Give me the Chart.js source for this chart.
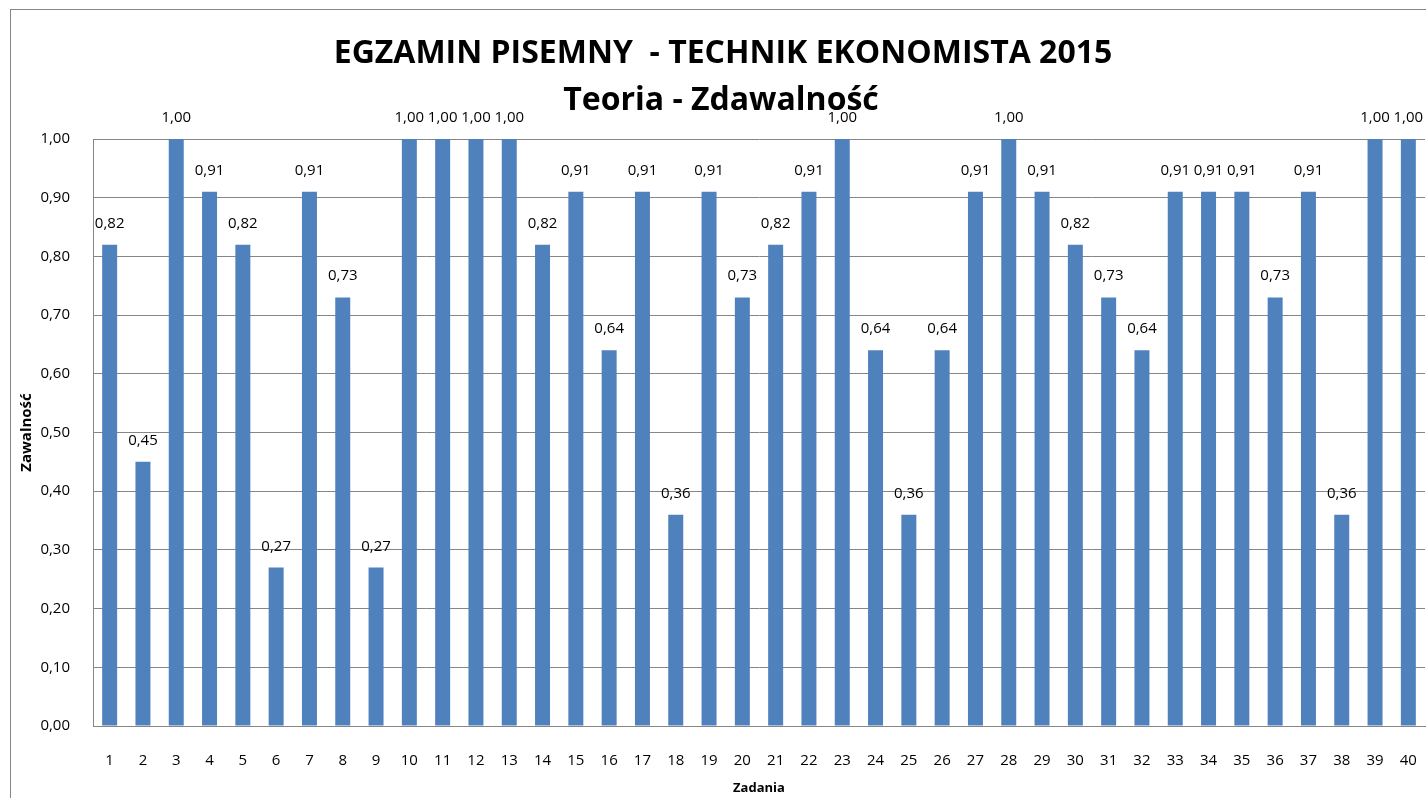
<!DOCTYPE html>
<html>
<head>
<meta charset="utf-8">
<script src="https://cdn.jsdelivr.net/npm/chart.js@4.4.1/dist/chart.umd.min.js"></script>
<style>
  body { margin: 0; background: #fff; overflow: hidden; }
  canvas { display: block; }
</style>
</head>
<body>
<canvas id="myChart" width="1426" height="798"></canvas>
<script>
// chart data
const titleLines = ['EGZAMIN PISEMNY  - TECHNIK EKONOMISTA 2015', 'Teoria - Zdawalność'];
const categories = [];
for (let i = 1; i <= 40; i++) categories.push(String(i));
const values = [
    0.82, 0.45, 1.00, 0.91, 0.82, 0.27, 0.91, 0.73, 0.27, 1.00,
    1.00, 1.00, 1.00, 0.82, 0.91, 0.64, 0.91, 0.36, 0.91, 0.73,
    0.82, 0.91, 1.00, 0.64, 0.36, 0.64, 0.91, 1.00, 0.91, 0.82,
    0.73, 0.64, 0.91, 0.91, 0.91, 0.73, 0.91, 0.36, 1.00, 1.00
];
const yTicks = [0, 0.1, 0.2, 0.3, 0.4, 0.5, 0.6, 0.7, 0.8, 0.9, 1.0];

const fmt = v => v.toFixed(2).replace('.', ',');
const FONT = "'Open Sans', sans-serif";

// frame + title drawn around the chart
const framePlugin = {
    id: 'frame',
    beforeDraw(chart) {
        const ctx = chart.ctx;
        ctx.save();
        ctx.strokeStyle = '#868686';
        ctx.lineWidth = 1;
        ctx.strokeRect(10.5, 9.5, 1500, 900);
        ctx.fillStyle = '#000';
        ctx.textAlign = 'center';
        ctx.textBaseline = 'middle';
        ctx.font = "bold 32px 'Open Sans', sans-serif";
        ctx.fillText(titleLines[0], 723, 54);
        ctx.fillText(titleLines[1], 721, 101);
        ctx.restore();
    }
};

// value labels above each bar
const labelPlugin = {
    id: 'barLabels',
    afterDatasetsDraw(chart) {
        const ctx = chart.ctx;
        const meta = chart.getDatasetMeta(0);
        ctx.save();
        ctx.fillStyle = '#000';
        ctx.font = '15px ' + FONT;
        ctx.textAlign = 'center';
        ctx.textBaseline = 'alphabetic';
        meta.data.forEach(function(bar, i) {
            ctx.fillText(fmt(values[i]), bar.x, bar.y - 17);
        });
        ctx.restore();
    }
};

var ctx = document.getElementById('myChart').getContext('2d');
var myChart = new Chart(ctx, {
    type: 'bar',
    data: {
        labels: categories,
        datasets: [{
            label: 'Zdawalność',
            data: values,
            backgroundColor: '#4F81BD',
            borderWidth: 0,
            barPercentage: 0.45,
            categoryPercentage: 1.0
        }]
    },
    options: {
        responsive: false,
        animation: false,
        layout: { padding: { left: 10, top: 139, right: 1, bottom: 0 } },
        plugins: {
            legend: { display: false },
            tooltip: { enabled: false }
        },
        scales: {
            x: {
                grid: { display: false },
                border: { display: true, color: '#868686' },
                ticks: { color: '#000', font: { family: FONT, size: 15 }, padding: 18, maxRotation: 0, autoSkip: false },
                title: { display: true, text: 'Zadania', color: '#000', font: { family: FONT, size: 13, weight: 'bold' }, padding: { top: 0, bottom: 2 } },
                afterFit: function(scale) {
                    scale.height = 72;
                    scale.paddingLeft = 0;
                    scale.paddingRight = 0;
                }
            },
            y: {
                min: 0,
                max: 1,
                afterBuildTicks: function(scale) { scale.ticks = yTicks.map(v => ({ value: v })); },
                grid: { color: '#868686', drawTicks: false },
                border: { display: true, color: '#868686' },
                ticks: { color: '#000', font: { family: FONT, size: 15 }, padding: 23, callback: v => fmt(v) },
                title: { display: true, text: 'Zawalność', color: '#000', font: { family: FONT, size: 15, weight: 'bold' }, padding: { top: 8, bottom: 0 } },
                afterFit: function(scale) { scale.width = 83; }
            }
        }
    },
    plugins: [framePlugin, labelPlugin]
});
</script>
</body>
</html>
